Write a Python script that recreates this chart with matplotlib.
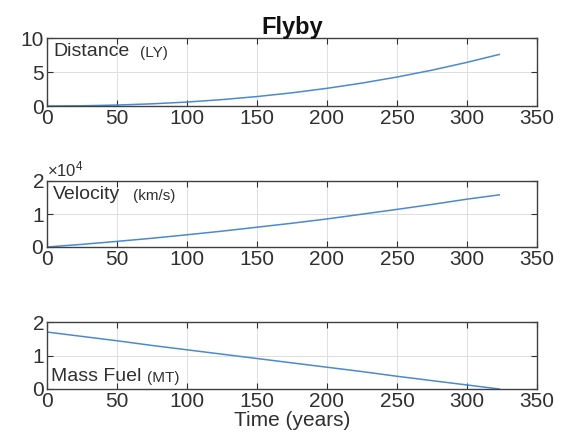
import matplotlib
matplotlib.use("Agg")
import matplotlib.pyplot as plt
from matplotlib.ticker import ScalarFormatter

plt.rcParams['font.family'] = ['Liberation Sans', 'DejaVu Sans']
plt.rcParams['mathtext.fontset'] = 'custom'
plt.rcParams['mathtext.rm'] = 'Liberation Sans'
plt.rcParams['mathtext.it'] = 'Liberation Sans'

# time samples (years)
time_years = [0, 25, 50, 75, 100, 125, 150, 175, 200, 225, 250, 275, 300, 323]
# distance travelled (light years)
distance_ly = [0.0, 0.03, 0.14, 0.32, 0.58, 0.94, 1.39, 1.94, 2.60, 3.37, 4.26, 5.27, 6.42, 7.58]
# velocity (km/s)
velocity_kms = [0, 800, 1700, 2650, 3700, 4800, 6000, 7200, 8500, 9950, 11400, 12900, 14500, 15800]
# remaining fuel mass (MT)
mass_fuel_mt = [1.70, 1.57, 1.44, 1.30, 1.17, 1.04, 0.91, 0.78, 0.65, 0.52, 0.38, 0.25, 0.12, 0.0]

xticks = [0, 50, 100, 150, 200, 250, 300, 350]

fig = plt.figure(figsize=(5.69, 4.41), dpi=100)
W, H = 569, 441
boxes = [(38, 106), (181, 247), (322, 389)]
left, right = 47, 537
axes = []
for top, bot in boxes:
    ax = fig.add_axes([left / W, 1 - bot / H, (right - left) / W, (bot - top) / H])
    axes.append(ax)

line_color = '#4a8ad0'
edge = '#404040'
txt = '#303030'

def style(ax):
    ax.set_xlim(0, 350)
    ax.set_xticks(xticks)
    ax.tick_params(direction='in', top=True, right=True, labelsize=15,
                   colors=txt, length=4, width=0.8, pad=2)
    ax.grid(True, color='#e0dede', linewidth=0.7)
    ax.set_axisbelow(True)
    for s in ax.spines.values():
        s.set_color(edge)
        s.set_linewidth(1.0)

ax1, ax2, ax3 = axes

ax1.plot(time_years, distance_ly, color=line_color, lw=1.1)
style(ax1)
ax1.set_ylim(0, 10)
ax1.set_yticks([0, 5, 10])
ax1.set_title('Flyby', fontsize=17, fontweight='bold', pad=3, color='#111111')
ax1.text(0.012, 0.93, 'Distance', transform=ax1.transAxes, fontsize=14,
         va='top', ha='left', color=txt)
ax1.text(0.19, 0.88, '(LY)', transform=ax1.transAxes, fontsize=11,
         va='top', ha='left', color=txt)

ax2.plot(time_years, velocity_kms, color=line_color, lw=1.1)
style(ax2)
ax2.set_ylim(0, 20000)
ax2.set_yticks([0, 10000, 20000])
fmt = ScalarFormatter(useMathText=True)
fmt.set_powerlimits((0, 0))
ax2.yaxis.set_major_formatter(fmt)
ax2.yaxis.get_offset_text().set_fontsize(12)
ax2.yaxis.get_offset_text().set_color(txt)
ax2.text(0.012, 0.93, 'Velocity', transform=ax2.transAxes, fontsize=14,
         va='top', ha='left', color=txt)
ax2.text(0.175, 0.88, '(km/s)', transform=ax2.transAxes, fontsize=11,
         va='top', ha='left', color=txt)

ax3.plot(time_years, mass_fuel_mt, color=line_color, lw=1.1)
style(ax3)
ax3.set_ylim(0, 2)
ax3.set_yticks([0, 1, 2])
ax3.set_xlabel('Time (years)', fontsize=15, labelpad=0, color=txt)
ax3.text(0.008, 0.06, 'Mass Fuel', transform=ax3.transAxes, fontsize=14,
         va='bottom', ha='left', color=txt)
ax3.text(0.205, 0.06, '(MT)', transform=ax3.transAxes, fontsize=11,
         va='bottom', ha='left', color=txt)

fig.savefig('out.png', dpi=100)
